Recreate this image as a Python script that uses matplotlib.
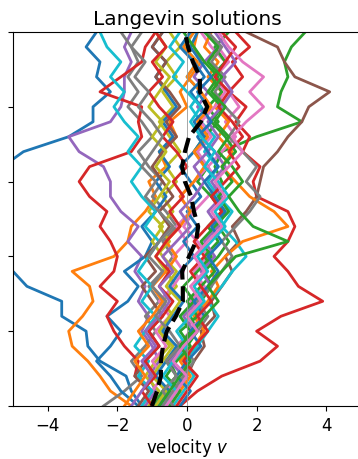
import numpy as np
import matplotlib.pyplot as plt

# time grid (vertical axis), values every 0.2
t = np.linspace(0, 5, 26)

blue_far = [-1.3, -1.6, -1.75, -2.5, -2.85, -2.9, -3.6, -3.6, -4.6, -5.0, -5.5, -6.0, -6.2,
            -6.0, -5.8, -5.6, -5.3, -4.7, -3.4, -2.7, -2.7, -2.2, -2.6, -2.5, -2.9, -2.6]
blue_left = [-1.4, -1.9, -2.2, -2.6, -2.2, -1.9, -2.3, -1.7, -1.4, -1.8, -1.2, -1.0, -1.3,
             -0.9, -0.6, -0.9, -0.5, -0.8, -0.4, -0.7, -0.3, -0.6, -0.9, -0.6, -1.0, -0.7]
orange_left = [-1.6, -2.2, -2.5, -2.85, -3.3, -3.4, -3.0, -2.7, -2.8, -3.3, -2.1, -1.7, -1.6,
               -1.2, -0.9, -1.1, -0.6, -0.8, -0.3, -0.5, 0.0, -0.2, 0.1, 0.4, 0.2, 0.3]
green_right = [-0.9, -0.6, -0.3, -0.5, 0.0, 0.3, 0.1, 0.4, 0.7, 0.5, 0.9, 1.2, 0.9,
               1.1, 0.7, 1.0, 0.8, 1.0, 2.0, 3.3, 2.6, 2.7, 2.9, 2.8, 3.0, 3.4]
red_right = [-0.2, 0.3, 1.0, 2.1, 2.6, 2.0, 2.7, 3.9, 3.2, 2.9, 2.5, 2.9, 3.1,
             2.9, 2.0, 1.9, 2.1, 1.6, 1.8, 1.4, 1.7, 1.2, 1.6, 1.3, 1.8, 1.4]
purple_left = [-1.2, -0.9, -1.1, -0.8, -1.0, -1.3, -1.1, -1.4, -1.2, -1.5, -1.3, -1.7, -1.4,
               -1.9, -2.2, -2.2, -2.4, -3.1, -3.4, -2.2, -1.9, -1.8, -1.8, -1.6, -1.8, -1.6]
brown_right = [-0.6, -0.3, 0.0, 0.2, 0.5, 0.4, 0.8, 0.7, 1.0, 1.3, 1.1, 1.5, 1.3,
               1.7, 2.0, 2.1, 2.2, 2.6, 2.9, 3.3, 3.5, 4.1, 3.1, 2.8, 2.6, 1.7]
pink_mid = [-0.9, -0.6, -0.3, 0.0, -0.3, 0.1, 0.4, 0.1, 0.5, 0.2, 0.6, 0.3, -0.1,
            0.2, 0.6, 0.9, 0.6, 1.0, 1.4, 1.1, 1.5, 1.2, 0.8, 1.1, 0.7, 0.4]
grey_low = [-2.4, -1.8, -1.3, -1.6, -1.2, -0.9, -1.2, -0.8, -1.1, -0.7, -0.4, -0.7, -0.3,
            -0.6, -1.0, -0.7, -1.1, -1.4, -1.0, -1.3, -1.7, -1.4, -1.7, -1.4, -1.6, -1.9]
olive_mid = [-1.1, -0.8, -1.2, -0.9, -0.5, -0.8, -0.4, -0.7, -0.3, -0.6, -0.9, -0.5, -0.8,
             -0.4, -0.7, -0.3, -0.6, -0.2, -0.5, -0.8, -0.4, -0.7, -0.3, -0.6, -0.2, -0.5]
cyan_right = [-0.4, -0.1, 0.2, -0.1, 0.3, 0.6, 0.9, 0.6, 1.0, 1.3, 1.7, 1.4, 1.0,
              1.3, 0.9, 0.6, 0.9, 0.5, 0.8, 0.4, 0.1, 0.4, 0.0, 0.3, -0.1, 0.2]
blue_mid = [-0.8, -0.5, -0.9, -0.6, -0.3, -0.7, -0.4, -0.1, -0.5, -0.2, 0.2, -0.1, 0.3,
            0.0, 0.4, 0.1, -0.2, 0.2, 0.5, 0.2, 0.6, 0.3, 0.7, 0.4, 0.1, 0.3]
orange_right = [-0.5, -0.2, 0.1, -0.2, 0.2, 0.5, 0.2, 0.6, 0.9, 0.7, 1.1, 1.6, 2.9,
                2.5, 1.8, 1.4, 1.0, 1.3, 0.9, 1.2, 0.8, 1.0, 0.6, 0.9, 0.5, 0.7]
green_mid = [-0.5, -0.2, -0.6, -0.3, 0.1, -0.2, 0.3, 0.0, 0.4, 0.8, 0.5, 0.9, 0.6,
             1.0, 0.7, 0.3, 0.6, 0.2, 0.5, 0.9, 0.6, 1.0, 0.7, 1.1, 0.8, 1.2]
red_left = [-1.3, -1.0, -1.5, -1.4, -1.8, -2.1, -2.3, -2.0, -2.5, -2.1, -2.0, -2.2, -2.5,
            -2.3, -2.8, -3.1, -2.8, -1.6, -1.3, -1.4, -1.3, -2.5, -1.9, -1.3, -1.2, -0.9]
purple_mid = [-0.7, -0.4, -0.1, -0.5, -0.2, 0.2, -0.1, 0.3, 0.7, 0.4, 0.8, 0.5, 0.9,
              0.6, 1.0, 0.7, 1.1, 0.8, 0.4, 0.7, 0.3, 0.6, 0.2, 0.5, 0.9, 0.6]
brown_mid = [-1.4, -1.1, -1.5, -1.2, -0.8, -1.1, -0.7, -1.0, -1.3, -0.9, -1.2, -0.8, -0.5,
             -0.8, -0.4, -0.7, -1.0, -0.7, -0.3, -0.6, -0.2, -0.5, -0.9, -0.6, -1.0, -0.7]
pink_low = [-1.3, -1.0, -0.7, -1.0, -0.6, -0.9, -0.5, -0.8, -0.4, -0.1, -0.4, 0.0, -0.3,
            0.1, -0.2, 0.2, 0.6, 0.3, 0.7, 0.4, 0.8, 1.1, 0.8, 1.2, 0.9, 0.6]
grey_right = [-0.7, -0.4, -0.1, 0.2, -0.1, 0.3, 0.6, 0.3, 0.7, 1.0, 1.3, 1.0, 1.4,
              1.8, 2.1, 1.7, 2.0, 1.6, 1.2, 1.5, 1.1, 0.8, 1.1, 0.7, 1.0, 0.6]
olive_left = [-0.9, -0.6, -1.0, -0.7, -0.4, -0.8, -0.5, -0.2, -0.6, -0.3, -0.7, -1.0, -0.7,
              -1.1, -0.8, -0.5, -0.9, -0.6, -1.0, -0.7, -1.1, -0.8, -0.5, -0.9, -0.6, -0.9]
cyan_left = [-1.3, -1.0, -1.4, -1.1, -1.5, -1.2, -0.9, -1.3, -1.0, -1.4, -1.1, -0.8, -1.2,
             -0.9, -1.3, -1.6, -1.3, -1.7, -1.4, -1.8, -2.1, -1.8, -2.2, -1.9, -2.3, -2.5]
blue_r = [-0.2, 0.1, -0.3, 0.0, 0.4, 0.1, 0.5, 0.2, 0.6, 0.9, 0.6, 1.0, 0.7,
          1.1, 0.8, 0.5, 0.9, 0.6, 0.3, 0.7, 0.4, 0.1, 0.5, 0.2, -0.2, 0.1]
orange_mid = [-1.8, -1.5, -1.2, -1.5, -1.1, -1.4, -1.0, -0.7, -1.0, -0.6, -0.3, -0.6, -0.2,
              0.1, -0.2, 0.2, 0.5, 0.2, 0.6, 0.3, 0.7, 0.4, 0.0, 0.3, -0.1, 0.2]
green_c = [-1.0, -0.7, -0.3, -0.6, -0.2, 0.1, -0.2, 0.2, -0.1, 0.3, 0.7, 0.4, 0.8,
           1.2, 0.9, 1.3, 1.0, 1.4, 1.1, 0.7, 1.0, 0.6, 0.9, 0.5, 0.2, -0.1]
red_mid = [-1.0, -1.3, -0.9, -1.2, -0.8, -1.1, -0.7, -0.4, -0.8, -0.5, -0.9, -0.6, -0.2,
           -0.5, -0.1, -0.4, 0.0, -0.3, -0.7, -0.4, -0.8, -1.1, -0.7, -1.0, -0.6, -0.9]
purple_r = [-1.6, -1.3, -1.0, -1.3, -0.9, -1.2, -0.8, -0.5, -0.8, -0.4, -0.7, -0.3, 0.1,
            -0.2, 0.2, 0.5, 0.2, 0.6, 0.9, 0.6, 1.0, 1.3, 1.0, 1.4, 1.1, 0.8]
red_top = [-0.3, 0.0, 0.3, -0.1, 0.2, 0.6, 0.3, 0.7, 0.4, 0.1, 0.5, 0.2, 0.6,
           1.0, 0.7, 1.1, 1.5, 1.2, 1.6, 1.3, 0.9, 1.2, 0.8, 1.1, 1.4, 1.0]
grey_mid = [-0.4, -0.7, -0.3, -0.6, -0.2, -0.5, -0.9, -0.6, -1.0, -0.7, -1.1, -0.8, -0.4,
            -0.8, -1.2, -0.9, -1.3, -1.0, -0.7, -1.0, -1.4, -1.1, -1.5, -1.2, -1.6, -1.3]
cyan_mid = [-0.6, -0.3, -0.7, -0.4, 0.0, -0.3, 0.1, 0.5, 0.2, 0.6, 0.3, 0.7, 1.1,
            0.8, 1.2, 0.9, 0.5, 0.8, 0.4, 0.1, 0.4, 0.0, -0.4, -0.1, -0.5, -0.2]
green_r2 = [-0.8, -0.5, -0.2, 0.1, -0.2, 0.2, 0.5, 0.9, 0.6, 1.0, 1.4, 2.9, 1.9,
            1.5, 1.2, 1.6, 1.3, 0.9, 1.2, 0.8, 1.1, 0.7, 1.0, 0.6, 0.9, 0.5]
pink_r = [-0.6, -0.3, 0.0, -0.4, -0.1, 0.3, 0.0, 0.4, 0.1, 0.5, 0.2, 0.6, 1.0,
          0.7, 1.1, 0.8, 1.2, 1.6, 1.3, 1.7, 2.2, 1.8, 2.2, 1.6, 1.2, 0.9]

mean_v = [-1.01, -0.86, -0.75, -0.75, -0.69, -0.58, -0.32, -0.12, -0.12, -0.14, 0.06, 0.26, 0.32,
          0.2, 0.12, -0.06, -0.14, -0.06, 0.06, 0.4, 0.58, 0.37, 0.37, 0.17, 0.03, -0.06]

paths = [blue_far, orange_left, green_right, red_right, purple_left, brown_right, pink_mid,
         grey_low, olive_mid, cyan_right,
         blue_left, orange_right, green_mid, red_left, purple_mid, brown_mid, pink_low,
         grey_right, olive_left, cyan_left,
         blue_mid, orange_mid, green_c, red_mid, purple_r, blue_r, red_top, grey_mid, cyan_mid,
         green_r2, pink_r]
colors = ['C0', 'C1', 'C2', 'C3', 'C4', 'C5', 'C6', 'C7', 'C8', 'C9',
          'C0', 'C1', 'C2', 'C3', 'C4', 'C5', 'C6', 'C7', 'C8', 'C9',
          'C0', 'C1', 'C2', 'C3', 'C4', 'C0', 'C3', 'C7', 'C9',
          'C2', 'C6']

fig = plt.figure(figsize=(3.58, 4.6), dpi=100)
ax = fig.add_axes([13 / 358, 53 / 460, 348 / 358, 374 / 460])

for v, c in zip(paths, colors):
    ax.plot(v, t, color=c, lw=2)
ax.axvline(0, color='0.6', lw=0.6, zorder=5)
ax.plot(mean_v, t, 'k--', lw=3, zorder=6)

ax.set_xlim(-5, 5)
ax.set_ylim(0, 5)
ax.set_xticks([-4, -2, 0, 2, 4])
ax.set_yticks([0, 1, 2, 3, 4, 5])
ax.set_yticklabels([])
ax.tick_params(labelsize=12)
ax.set_xlabel('velocity $v$', fontsize=12, labelpad=2)
ax.set_title('Langevin solutions', fontsize=14.5)

fig.savefig('out.png', dpi=100)
